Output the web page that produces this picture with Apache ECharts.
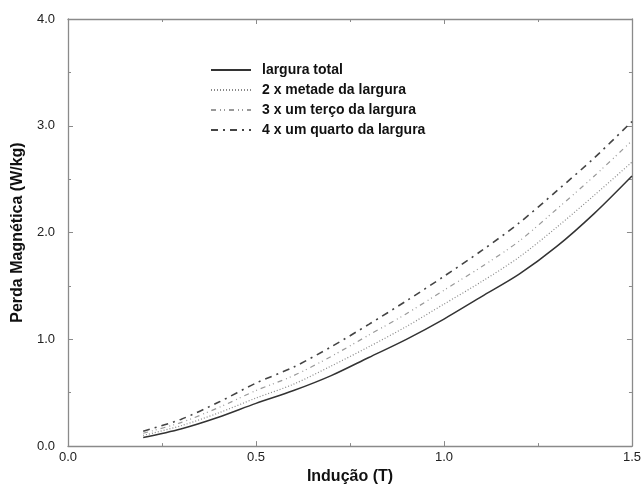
<!DOCTYPE html>
<html>
<head>
<meta charset="utf-8">
<script src="https://cdn.jsdelivr.net/npm/echarts@6/dist/echarts.min.js"></script>
<style>html,body{margin:0;padding:0;background:#fff}#c{width:644px;height:490px}</style>
</head>
<body>
<div id="c"></div>
<script>
const induction = [0.2, 0.3, 0.4, 0.5, 0.6, 0.7, 0.8, 0.9, 1.0, 1.1, 1.2, 1.3, 1.4, 1.5];
const larguraTotal = [0.08, 0.16, 0.27, 0.40, 0.52, 0.66, 0.83, 1.00, 1.19, 1.40, 1.61, 1.87, 2.18, 2.53];
const metade = [0.10, 0.19, 0.31, 0.45, 0.58, 0.75, 0.93, 1.12, 1.33, 1.54, 1.77, 2.05, 2.35, 2.66];
const terco = [0.12, 0.22, 0.36, 0.52, 0.66, 0.84, 1.04, 1.24, 1.46, 1.68, 1.92, 2.22, 2.53, 2.86];
const quarto = [0.14, 0.25, 0.41, 0.59, 0.74, 0.93, 1.14, 1.36, 1.59, 1.83, 2.09, 2.39, 2.70, 3.04];
const seriesNames = ['largura total', '2 x metade da largura', '3 x um terço da largura', '4 x um quarto da largura'];
const xTicks = ['0.0', '0.5', '1.0', '1.5'];

const font = '"Liberation Sans", Arial, sans-serif';
const pairs = arr => induction.map((x, i) => [x, arr[i]]);
const axisCol = '#8a8a8a';

const chart = echarts.init(document.getElementById('c'), null, {renderer: 'canvas'});
const baseAxis = {
  axisLine: {show: true, onZero: false, lineStyle: {color: axisCol, width: 1.3}},
  axisTick: {show: true, inside: true, length: 5, lineStyle: {color: axisCol}},
  minorTick: {show: true, splitNumber: 2, length: 3, lineStyle: {color: axisCol}},
  splitLine: {show: false}
};
chart.setOption({
  animation: false,
  grid: {left: 68, right: 12, top: 19, bottom: 40},
  legend: {
    orient: 'vertical', left: 205, top: 58, itemWidth: 40, itemHeight: 10, itemGap: 6,
    itemStyle: {opacity: 0},
    textStyle: {fontFamily: font, fontSize: 14, color: '#111', fontWeight: 'bold', padding: [0, 0, 0, 6]},
    data: seriesNames
  },
  xAxis: [
    Object.assign({}, baseAxis, {
      type: 'value', min: 0, max: 1.5, interval: 0.5, position: 'bottom',
      name: 'Indução (T)', nameLocation: 'middle', nameGap: 17,
      nameTextStyle: {fontFamily: font, fontSize: 16, color: '#111', fontWeight: 'bold'},
      axisLabel: {fontFamily: font, fontSize: 13, color: '#222', margin: 5,
        formatter: v => xTicks[Math.round(v / 0.5)]}
    }),
    Object.assign({}, baseAxis, {
      type: 'value', min: 0, max: 1.5, interval: 0.5, position: 'top', axisLabel: {show: false}
    })
  ],
  yAxis: [
    Object.assign({}, baseAxis, {
      type: 'value', min: 0, max: 4, interval: 1, position: 'left',
      name: 'Perda Magnética (W/kg)', nameLocation: 'middle', nameGap: 41,
      nameTextStyle: {fontFamily: font, fontSize: 16, color: '#111', fontWeight: 'bold'},
      axisLabel: {fontFamily: font, fontSize: 13, color: '#222', margin: 13,
        formatter: v => v.toFixed(1)}
    }),
    Object.assign({}, baseAxis, {
      type: 'value', min: 0, max: 4, interval: 1, position: 'right', axisLabel: {show: false}
    })
  ],
  series: [
    {name: seriesNames[0], type: 'line', data: pairs(larguraTotal), symbol: 'none', smooth: 0.3,
      lineStyle: {color: '#333', width: 1.5, type: 'solid'}, itemStyle: {color: '#333'}},
    {name: seriesNames[1], type: 'line', data: pairs(metade), symbol: 'none', smooth: 0.3,
      lineStyle: {color: '#888', width: 1.2, type: [1, 2]}, itemStyle: {color: '#888'}},
    {name: seriesNames[2], type: 'line', data: pairs(terco), symbol: 'none', smooth: 0.3,
      lineStyle: {color: '#999', width: 1.2, type: [5, 4, 1, 3, 1, 4]}, itemStyle: {color: '#999'}},
    {name: seriesNames[3], type: 'line', data: pairs(quarto), symbol: 'none', smooth: 0.3,
      lineStyle: {color: '#444', width: 1.6, type: [7, 5, 2, 5]}, itemStyle: {color: '#444'}}
  ]
});
</script>
</body>
</html>
